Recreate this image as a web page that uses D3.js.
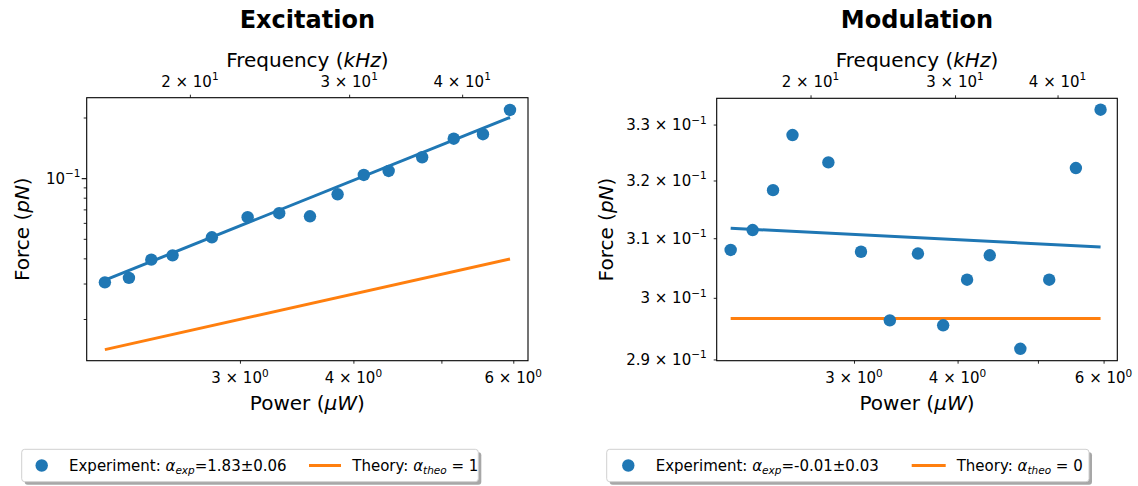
<!DOCTYPE html>
<html>
<head>
<meta charset="utf-8">
<script src="https://cdn.jsdelivr.net/npm/d3@7"></script>
<style>
  html, body { margin: 0; padding: 0; background: #fff; }
  svg { display: block; font-family: "DejaVu Sans", "Liberation Sans", sans-serif; }
</style>
</head>
<body>
<svg id="chart" width="1138" height="486"></svg>
<script>
// Laser power sweep (µW), shared by both measurements
const powerUW = [2.130, 2.264, 2.396, 2.529, 2.794, 3.059, 3.314, 3.583, 3.843, 4.107, 4.374, 4.762, 5.159, 5.556, 5.950];

// Measured forces (pN)
const excitationForce = [0.0304, 0.0320, 0.0394, 0.0414, 0.0509, 0.0640, 0.0670, 0.0647, 0.0832, 0.1037, 0.1086, 0.1270, 0.1570, 0.1652, 0.2180];
const modulationForce = [0.3080, 0.3114, 0.3183, 0.3281, 0.3232, 0.3077, 0.2963, 0.3074, 0.2955, 0.3030, 0.3071, 0.2917, 0.3030, 0.3222, 0.3327];

// Power-law fit and theory, given at both ends of the sweep
const fitPowerEnds = [2.130, 5.950];
const excitationFitForce = [0.0312, 0.2000];
const excitationTheoryForce = [0.01409, 0.03972];
const modulationFitForce = [0.3117, 0.3085];
const modulationTheoryForce = [0.2966, 0.2966];

// Ticks and their labels
const powerTicks = [3, 4, 5, 6];
const powerTickLabels = ["3×10^0", "4×10^0", "", "6×10^0"];
const freqTicks = [20, 30, 40];
const freqTickLabels = ["2×10^1", "3×10^1", "4×10^1"];
const excitationMajorTicks = [0.1];
const excitationMajorLabels = ["10^-1"];
const excitationMinorTicks = [0.02, 0.03, 0.04, 0.05, 0.06, 0.07, 0.08, 0.09, 0.2];
const modulationTicks = [0.29, 0.30, 0.31, 0.32, 0.33];
const modulationTickLabels = ["2.9×10^-1", "3×10^-1", "3.1×10^-1", "3.2×10^-1", "3.3×10^-1"];

// Legend entries
const excitationLegend = [
  [{ t: "Experiment: " }, { t: "α", it: true }, { t: "exp", it: true, sub: true }, { t: "=1.83±0.06" }],
  [{ t: "Theory: " }, { t: "α", it: true }, { t: "theo", it: true, sub: true }, { t: " = 1" }]
];
const modulationLegend = [
  [{ t: "Experiment: " }, { t: "α", it: true }, { t: "exp", it: true, sub: true }, { t: "=-0.01±0.03" }],
  [{ t: "Theory: " }, { t: "α", it: true }, { t: "theo", it: true, sub: true }, { t: " = 0" }]
];

const BLUE = "#1f77b4", ORANGE = "#ff7f0e";
const svg = d3.select("#chart");

// Writes "m×10^e" as mathtext-like text with a superscript exponent
function writePower(textSel, label) {
  const [base, exp] = label.split("^");
  textSel.text(null);
  textSel.append("tspan").text(base.replace("×", " × "));
  textSel.append("tspan").attr("font-size", "10.5px").attr("dy", "-6.5px")
    .text(exp.replace("-", "−"));
}

// Writes a list of text runs (italic / subscript) into a text element
function writeRuns(textSel, runs, size) {
  let shifted = 0;
  runs.forEach(r => {
    const ts = textSel.append("tspan").text(r.t);
    if (r.it) ts.attr("font-style", "italic");
    if (r.sub) {
      ts.attr("font-size", (size * 0.7) + "px");
      if (!shifted) { ts.attr("dy", "3px"); shifted = 3; }
    } else if (shifted) {
      ts.attr("dy", (-shifted) + "px"); shifted = 0;
    }
  });
}

function drawPanel(cfg) {
  const { x0, x1, y0, y1 } = cfg.box;
  const g = svg.append("g");

  const x = d3.scaleLog().domain(cfg.powerDomain).range([x0, x1]);
  const xTop = d3.scaleLog().domain(cfg.freqDomain).range([x0, x1]);
  const y = d3.scaleLog().domain(cfg.forceDomain).range([y1, y0]);

  const line = d3.line().x(d => x(d[0])).y(d => y(d[1]));

  // theory line
  g.append("path")
    .datum(d3.zip(fitPowerEnds, cfg.theory))
    .attr("d", line).attr("fill", "none")
    .attr("stroke", ORANGE).attr("stroke-width", 3);

  // fitted power law
  g.append("path")
    .datum(d3.zip(fitPowerEnds, cfg.fit))
    .attr("d", line).attr("fill", "none")
    .attr("stroke", BLUE).attr("stroke-width", 3);

  // measured points
  g.append("g").selectAll("circle")
    .data(d3.zip(powerUW, cfg.force))
    .join("circle")
    .attr("cx", d => x(d[0])).attr("cy", d => y(d[1]))
    .attr("r", 6.2).attr("fill", BLUE);

  // frame
  g.append("rect")
    .attr("x", x0).attr("y", y0).attr("width", x1 - x0).attr("height", y1 - y0)
    .attr("fill", "none").attr("stroke", "#000").attr("stroke-width", 1.1);

  const styleTicks = (sel, w) => {
    sel.select(".domain").remove();
    sel.selectAll(".tick line").attr("stroke", "#000").attr("stroke-width", w);
    sel.selectAll(".tick text").remove();
  };

  // bottom axis: power
  const bottom = g.append("g").attr("transform", `translate(0,${y1})`)
    .call(d3.axisBottom(x).tickValues(powerTicks).tickSize(3));
  styleTicks(bottom, 0.85);
  powerTicks.forEach((v, i) => {
    if (!powerTickLabels[i]) return;
    const t = g.append("text").attr("x", x(v)).attr("y", 383)
      .attr("text-anchor", "middle").attr("font-size", "15px");
    writePower(t, powerTickLabels[i]);
  });

  // top axis: modulation frequency
  const top = g.append("g").attr("transform", `translate(0,${y0})`)
    .call(d3.axisTop(xTop).tickValues(freqTicks).tickSize(3));
  styleTicks(top, 0.85);
  freqTicks.forEach((v, i) => {
    const t = g.append("text").attr("x", xTop(v)).attr("y", 86.5)
      .attr("text-anchor", "middle").attr("font-size", "15px");
    writePower(t, freqTickLabels[i]);
  });

  // left axis: force
  if (cfg.majorTicks.length) {
    const major = g.append("g").attr("transform", `translate(${x0},0)`)
      .call(d3.axisLeft(y).tickValues(cfg.majorTicks).tickSize(5));
    styleTicks(major, 1.1);
  }
  const minor = g.append("g").attr("transform", `translate(${x0},0)`)
    .call(d3.axisLeft(y).tickValues(cfg.minorTicks).tickSize(3));
  styleTicks(minor, 0.85);
  cfg.yLabelTicks.forEach((v, i) => {
    const t = g.append("text").attr("x", cfg.yLabelRight).attr("y", y(v) + 5.5)
      .attr("text-anchor", "end").attr("font-size", "15px");
    writePower(t, cfg.yLabels[i]);
  });

  const cx = (x0 + x1) / 2;

  // titles and axis labels
  g.append("text").attr("x", cx).attr("y", 27.5).attr("text-anchor", "middle")
    .attr("font-size", "24px").attr("font-weight", "bold").text(cfg.title);

  const fl = g.append("text").attr("x", cx).attr("y", 66.5)
    .attr("text-anchor", "middle").attr("font-size", "20px");
  writeRuns(fl, [{ t: "Frequency (" }, { t: "kHz", it: true }, { t: ")" }], 20);

  const pl = g.append("text").attr("x", cx).attr("y", 409.5)
    .attr("text-anchor", "middle").attr("font-size", "20px");
  writeRuns(pl, [{ t: "Power (" }, { t: "μW", it: true }, { t: ")" }], 20);

  const yl = g.append("text")
    .attr("transform", `translate(${cfg.yTitleX},${(y0 + y1) / 2}) rotate(-90)`)
    .attr("text-anchor", "middle").attr("font-size", "20px");
  writeRuns(yl, [{ t: "Force (" }, { t: "pN", it: true }, { t: ")" }], 20);

  // legend
  const L = cfg.legend;
  const lg = g.append("g");
  lg.append("rect")
    .attr("x", L.x0 + 3).attr("y", L.y0 + 3).attr("width", L.x1 - L.x0).attr("height", L.y1 - L.y0)
    .attr("rx", 3).attr("fill", "#8a8a8a").attr("opacity", 0.75);
  lg.append("rect")
    .attr("x", L.x0).attr("y", L.y0).attr("width", L.x1 - L.x0).attr("height", L.y1 - L.y0)
    .attr("rx", 3).attr("fill", "#fff").attr("stroke", "#d0d0d0").attr("stroke-width", 1);
  const ly = (L.y0 + L.y1) / 2;
  lg.append("circle").attr("cx", L.marker).attr("cy", ly).attr("r", 6.2).attr("fill", BLUE);
  const t1 = lg.append("text").attr("x", L.text1).attr("y", ly + 5.5).attr("font-size", "15px");
  writeRuns(t1, cfg.legendRuns[0], 15);
  lg.append("line").attr("x1", L.line[0]).attr("x2", L.line[1]).attr("y1", ly).attr("y2", ly)
    .attr("stroke", ORANGE).attr("stroke-width", 3);
  const t2 = lg.append("text").attr("x", L.text2).attr("y", ly + 5.5).attr("font-size", "15px");
  writeRuns(t2, cfg.legendRuns[1], 15);
}

drawPanel({
  title: "Excitation",
  box: { x0: 86.7, x1: 528, y0: 97.7, y1: 360.7 },
  powerDomain: [2.034, 6.228],
  freqDomain: [15.38, 47.3],
  forceDomain: [0.01242, 0.2508],
  force: excitationForce,
  fit: excitationFitForce,
  theory: excitationTheoryForce,
  majorTicks: excitationMajorTicks,
  minorTicks: excitationMinorTicks,
  yLabelTicks: excitationMajorTicks,
  yLabels: excitationMajorLabels,
  yLabelRight: 80.5,
  yTitleX: 28.5,
  legend: { x0: 21.7, x1: 478.3, y0: 449.3, y1: 481.7, marker: 41.7, text1: 69, line: [309, 341], text2: 352.3 },
  legendRuns: excitationLegend
});

drawPanel({
  title: "Modulation",
  box: { x0: 716.7, x1: 1117.3, y0: 98.3, y1: 360.7 },
  powerDomain: [2.049, 6.233],
  freqDomain: [15.37, 47.3],
  forceDomain: [0.2898, 0.3348],
  force: modulationForce,
  fit: modulationFitForce,
  theory: modulationTheoryForce,
  majorTicks: [],
  minorTicks: modulationTicks,
  yLabelTicks: modulationTicks,
  yLabels: modulationTickLabels,
  yLabelRight: 706.7,
  yTitleX: 613,
  legend: { x0: 606.7, x1: 1089, y0: 449.3, y1: 481.7, marker: 628.3, text1: 655.7, line: [911.7, 945.7], text2: 956.7 },
  legendRuns: modulationLegend
});
</script>
</body>
</html>
